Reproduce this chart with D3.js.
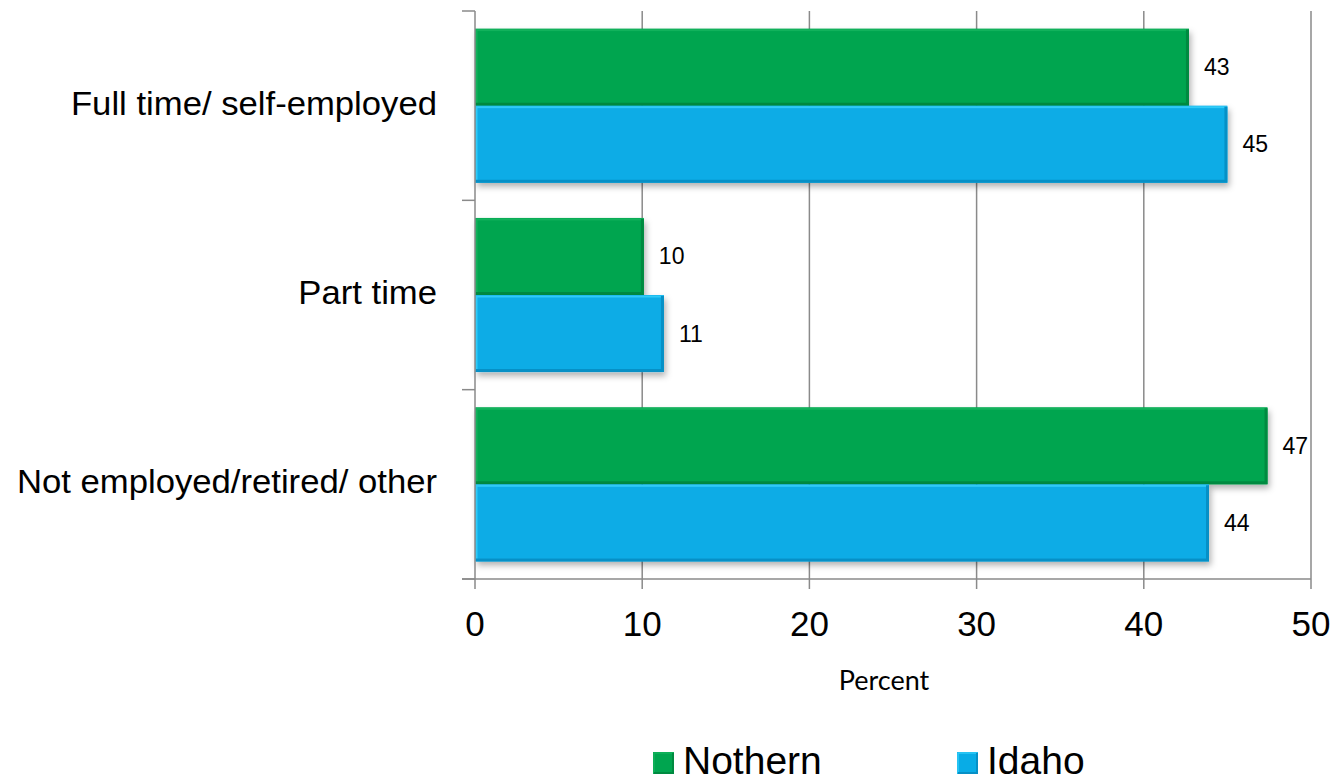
<!DOCTYPE html>
<html>
<head>
<meta charset="utf-8">
<script src="https://cdn.jsdelivr.net/npm/d3@7"></script>
<style>
  html, body { margin: 0; padding: 0; background: #ffffff; }
  svg { display: block; }
</style>
</head>
<body>
<svg id="chart" width="1336" height="781"></svg>
<script>
// ---- data ----
const categories = ["Full time/ self-employed", "Part time", "Not employed/retired/ other"];
const seriesNames = ["Nothern", "Idaho"];
const nothernValues = [42.7, 10.1, 47.4];
const idahoValues = [45.0, 11.3, 43.9];
const xTicks = [0, 10, 20, 30, 40, 50];
const xAxisTitle = "Percent";

const seriesValues = [nothernValues, idahoValues];
const colors = {
  Nothern: { fill: "#00a54f", light: "#12b25c", dark: "#008a40" },
  Idaho:   { fill: "#08ace6", light: "#2fcaf7", dark: "#0690c6" }
};

const svg = d3.select("#chart");
const FONT = "'Liberation Sans', Arial, sans-serif";

const defs = svg.append("defs");
const f = defs.append("filter").attr("id", "shadow")
  .attr("x", "-5%").attr("y", "-10%").attr("width", "115%").attr("height", "135%");
f.append("feDropShadow").attr("dx", 2).attr("dy", 4).attr("stdDeviation", 3)
  .attr("flood-color", "#000").attr("flood-opacity", 0.3);

const x = d3.scaleLinear().domain([0, 50]).range([475, 1311]);
const y = d3.scaleBand().domain(categories).range([11, 579])
  .paddingInner(0.186).paddingOuter(0.093);
const ySub = d3.scaleBand().domain(seriesNames).range([0, y.bandwidth()]);

const gridColor = "#8a8a8a";
const yTop = 11, yBottom = 579, tickLen = 10;

// gridlines (under bars)
svg.append("g").selectAll("line").data(xTicks.filter(t => t > 0)).join("line")
  .attr("x1", d => x(d)).attr("x2", d => x(d))
  .attr("y1", yTop).attr("y2", yBottom + tickLen)
  .attr("stroke", gridColor).attr("stroke-width", 1.5);

// bars
const rows = [];
categories.forEach((c, i) => {
  seriesNames.forEach((s, j) => rows.push({ cat: c, series: s, value: seriesValues[j][i] }));
});

const barG = svg.append("g");
const bars = barG.selectAll("g.bar").data(rows).join("g").attr("class", "bar");
bars.append("rect")
  .attr("x", x(0))
  .attr("y", d => y(d.cat) + ySub(d.series))
  .attr("width", d => x(d.value) - x(0))
  .attr("height", ySub.bandwidth())
  .attr("fill", d => colors[d.series].fill)
  .attr("filter", "url(#shadow)");
// bevel: light inner border
bars.append("rect")
  .attr("x", x(0) + 1.5)
  .attr("y", d => y(d.cat) + ySub(d.series) + 1.5)
  .attr("width", d => x(d.value) - x(0) - 3)
  .attr("height", ySub.bandwidth() - 3)
  .attr("fill", "none")
  .attr("stroke", d => colors[d.series].light)
  .attr("stroke-width", 2);
// bevel: dark right and bottom edges
bars.append("path")
  .attr("d", d => {
    const x1 = x(d.value), y0 = y(d.cat) + ySub(d.series), y1 = y0 + ySub.bandwidth();
    return `M${x1 - 1.5},${y0 + 1}L${x1 - 1.5},${y1 - 1.5}L${x(0) + 1},${y1 - 1.5}`;
  })
  .attr("fill", "none")
  .attr("stroke", d => colors[d.series].dark)
  .attr("stroke-width", 3);

// value labels
svg.append("g").selectAll("text").data(rows).join("text")
  .attr("x", d => x(d.value) + 15)
  .attr("y", d => y(d.cat) + ySub(d.series) + ySub.bandwidth() / 2 + 8)
  .attr("font-family", FONT).attr("font-size", 23).attr("fill", "#000")
  .text(d => d3.format(".0f")(d.value));

// axes lines
const axisG = svg.append("g").attr("stroke", gridColor).attr("stroke-width", 1.5);
axisG.append("line").attr("x1", x(0)).attr("x2", x(0)).attr("y1", yTop).attr("y2", yBottom + tickLen);
axisG.append("line").attr("x1", x(0) - 13).attr("x2", x(50)).attr("y1", yBottom).attr("y2", yBottom);
// category boundary ticks
const step = y.step();
const boundaries = categories.map(c => y(c) - y.paddingInner() * step / 2)
  .concat([y(categories[categories.length - 1]) + y.bandwidth() + y.paddingInner() * step / 2]);
axisG.selectAll("line.ytick").data(boundaries).join("line").attr("class", "ytick")
  .attr("x1", x(0) - 13).attr("x2", x(0)).attr("y1", d => d).attr("y2", d => d);

// x tick labels
svg.append("g").selectAll("text").data(xTicks).join("text")
  .attr("x", d => x(d)).attr("y", 636)
  .attr("text-anchor", "middle")
  .attr("font-family", FONT).attr("font-size", 35).attr("fill", "#000")
  .text(d => d);

// category labels
svg.append("g").selectAll("g").data(categories).join("g")
  .attr("transform", d => `translate(437, ${y(d) + y.bandwidth() / 2 + 9}) scale(1.02,1)`)
  .append("text")
  .attr("text-anchor", "end")
  .attr("font-family", FONT).attr("font-size", 34).attr("fill", "#000")
  .text(d => d);

// x axis title
svg.append("text")
  .attr("x", 884).attr("y", 690).attr("text-anchor", "middle")
  .attr("font-family", "Lato, 'Open Sans', sans-serif").attr("font-size", 27).attr("fill", "#000")
  .text(xAxisTitle);

// legend
const legendX = d3.scaleOrdinal().domain(seriesNames).range([653, 957]);
const lg = svg.append("g").selectAll("g").data(seriesNames).join("g")
  .attr("transform", d => `translate(${legendX(d)}, 752)`);
lg.append("rect").attr("width", 21).attr("height", 22)
  .attr("fill", d => colors[d].fill);
lg.append("rect").attr("x", 1).attr("y", 1).attr("width", 19).attr("height", 20)
  .attr("fill", "none").attr("stroke", d => colors[d].light).attr("stroke-width", 1.5);
lg.append("path").attr("d", "M20,1L20,21L1,21").attr("fill", "none")
  .attr("stroke", d => colors[d].dark).attr("stroke-width", 2);
lg.append("text").attr("x", 30).attr("y", 22)
  .attr("font-family", FONT).attr("font-size", 39).attr("fill", "#000")
  .text(d => d);
</script>
</body>
</html>
